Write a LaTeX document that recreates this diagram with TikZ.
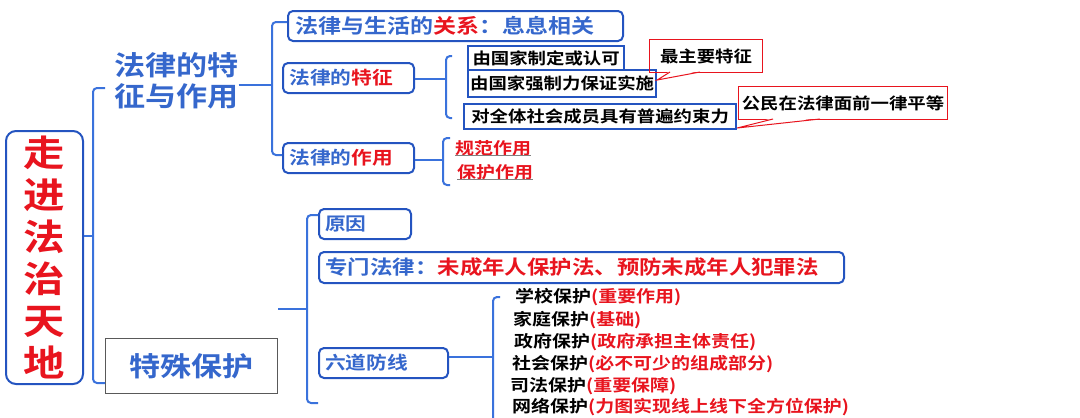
\documentclass[tikz,border=0pt]{standalone}
\usepackage{fontspec}
\setmainfont{Noto Sans CJK SC}[BoldFont={* Bold},FakeStretch=1.15]
\definecolor{lb}{HTML}{3A72DC}
\definecolor{db}{HTML}{2454C0}
\definecolor{tb}{HTML}{3567CC}
\definecolor{rd}{HTML}{E8141E}
\newcommand{\R}[1]{\textcolor{rd}{#1}}
\newcommand{\bx}[7]{\node[#6,anchor=north west,minimum width=#4pt,minimum height=#5pt] (#1) at (#2,#3) {#7};}
\tikzset{
  line/.style={draw=lb,line width=2pt,rounded corners=4pt},
  rbox/.style={draw=db,line width=2pt,rounded corners=5pt,inner xsep=5pt,inner ysep=2pt,align=left,font=\fontsize{18}{18}\selectfont\bfseries,text=tb},
  sbox/.style={draw=db,line width=2.2pt,inner sep=2pt,font=\fontsize{16}{16}\selectfont\bfseries,text=black},
  cbox/.style={draw=rd,line width=1pt,font=\fontsize{16}{16}\selectfont\bfseries,text=black},
  itm/.style={anchor=west,inner sep=0pt,font=\fontsize{16.5}{16.5}\selectfont\bfseries},
}
\begin{document}
\begin{tikzpicture}[x=1pt,y=-1pt]
\useasboundingbox (0,0) rectangle (1080,418);
% root
\bx{root}{5}{130}{77}{253}{draw=db,line width=2pt,rounded corners=10pt,align=center,text=rd,font=\fontsize{36}{42}\selectfont\bfseries}{走\\进\\法\\治\\天\\地}
% level 1
\node[anchor=north west,align=left,text=tb,font=\fontsize{27}{31}\selectfont\bfseries,inner sep=0pt] (tz) at (114,52) {法律的特\\征与作用};
\bx{ts}{105}{338}{172}{55}{draw=gray!70!black,line width=1pt,text=tb,font=\fontsize{27}{27}\selectfont\bfseries}{特殊保护}
\coordinate (r0) at (93,236);
\draw[line] (root.east|-r0) -- (r0);
\draw[line] (105,88) -- (93,88) -- (93,383) -- (ts.west|-0,383);
% level 2 upper
\bx{gx}{287}{10}{335}{30}{rbox,text width=320pt,font=\fontsize{20}{20}\selectfont\bfseries}{法律与生活的\R{关系}：息息相关}
\bx{tzg}{282}{62}{131}{30}{rbox,text width=118pt}{法律的\R{特征}}
\bx{zy}{282}{142}{131}{30}{rbox,text width=118pt}{法律的\R{作用}}
\draw[line] (tz.east|-0,85) -- (272,85);
\draw[line] (gx.west|-0,22) -- (272,22) -- (272,155) -- (zy.west|-0,155);
\draw[line] (tzg.east|-0,79) -- (446,79);
\draw[line] (452,56) -- (446,56) -- (446,118) -- (452,118);
\bx{t1}{467}{45}{156}{24}{sbox}{由国家制定或认可}
\bx{t2}{467}{69}{183}{27}{sbox}{由国家强制力保证实施}
\bx{t3}{463}{103}{272}{25}{sbox}{对全体社会成员具有普遍约束力}
\bx{c1}{649}{39}{113}{33}{cbox}{最主要特征}
\bx{c2}{738}{86}{202}{33}{cbox}{公民在法律面前一律平等}
\fill[white] (670,71) -- (t2.east|-0,80) -- (700,71) -- cycle;
\draw[rd,line width=1pt] (670,72) -- (t2.east|-0,80) -- (700,72);
\fill[white] (773,118) -- (t3.east|-0,128) -- (820,118) -- cycle;
\draw[rd,line width=1pt] (773,119) -- (t3.east|-0,128) -- (820,119);
\draw[line] (zy.east|-0,160) -- (443,160);
\draw[line] (450,138) -- (443,138) -- (443,185) -- (450,185);
\node[itm,text=rd] (g1) at (455,148) {规范作用};
\node[itm,text=rd] (g2) at (457,172) {保护作用};
\draw[gray,line width=1pt] (g1.south west) -- (g1.south east);
\draw[gray,line width=1pt] (g2.south west) -- (g2.south east);
% level 2 lower
\bx{yy}{318}{208}{92}{30}{rbox,text width=80pt}{原因}
\bx{zm}{318}{251}{525}{31}{rbox,text width=512pt,font=\fontsize{19.5}{19.5}\selectfont\bfseries}{专门法律：\R{未成年人保护法、预防未成年人犯罪法}}
\bx{ld}{318}{347}{129}{30}{rbox,text width=117pt}{六道防线}
\draw[line] (ts.east|-0,309) -- (307,309);
\draw[line] (yy.west|-0,215) -- (307,215) -- (307,403) -- (318,403);
\draw[line] (ld.east|-0,357) -- (493,357);
\draw[line] (500,297) -- (493,297) -- (493,418);
\node[itm] (p1) at (515,297) {学校保护\R{(重要作用)}};
\node[itm] (p2) at (513,320) {家庭保护\R{(基础)}};
\node[itm] (p3) at (514,342) {政府保护\R{(政府承担主体责任)}};
\node[itm] (p4) at (512,364) {社会保护\R{(必不可少的组成部分)}};
\node[itm] (p5) at (510,386) {司法保护\R{(重要保障)}};
\node[itm] (p6) at (512,407) {网络保护\R{(力图实现线上线下全方位保护)}};
\end{tikzpicture}
\end{document}
